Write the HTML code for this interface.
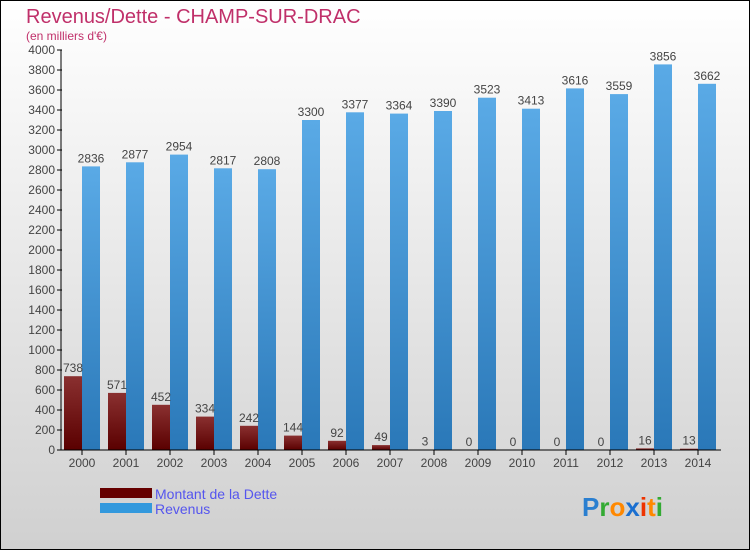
<!DOCTYPE html>
<html><head><meta charset="utf-8"><style>
body{margin:0;width:750px;height:550px;overflow:hidden;font-family:"Liberation Sans",sans-serif}
#wrap{position:absolute;left:0;top:0;width:748px;height:548px;border:1px solid #000;background:linear-gradient(#ffffff,#d0d0d0)}
</style></head><body>
<div id="wrap">
<svg id="chart" width="750" height="550" style="position:absolute;left:-1px;top:-1px">
<defs>
<linearGradient id="gd" x1="0" y1="0" x2="0" y2="1"><stop offset="0" stop-color="#8a3030"/><stop offset="1" stop-color="#5a0000"/></linearGradient>
<linearGradient id="gr" x1="0" y1="0" x2="0" y2="1"><stop offset="0" stop-color="#5aaae6"/><stop offset="1" stop-color="#2a78b8"/></linearGradient>
</defs>
<text x="26" y="23" font-size="20" fill="#c0306a">Revenus/Dette - CHAMP-SUR-DRAC</text>
<text x="26" y="40" font-size="12" fill="#c0306a">(en milliers d'€)</text>
<g id="g"></g>
<rect x="100" y="488" width="52" height="10" fill="#660000"/>
<rect x="100" y="503" width="52" height="10" fill="#3399dd"/>
<text x="155" y="499" font-size="14" fill="#5555ee">Montant de la Dette</text>
<text x="155" y="514" font-size="14" fill="#5555ee">Revenus</text>
<text x="582" y="516" font-size="26" font-weight="bold"><tspan fill="#2a7fd0">P</tspan><tspan fill="#33aa33">r</tspan><tspan fill="#ff8800">o</tspan><tspan fill="#1a6fd0">x</tspan><tspan fill="#ee3300">i</tspan><tspan fill="#ff8800">t</tspan><tspan fill="#33aa33">i</tspan></text>
</svg></div>
<script>
const years=["2000","2001","2002","2003","2004","2005","2006","2007","2008","2009","2010","2011","2012","2013","2014"];
const dette=[738,571,452,334,242,144,92,49,3,0,0,0,0,16,13];
const revenus=[2836,2877,2954,2817,2808,3300,3377,3364,3390,3523,3413,3616,3559,3856,3662];
const yTicks=[0,200,400,600,800,1000,1200,1400,1600,1800,2000,2200,2400,2600,2800,3000,3200,3400,3600,3800,4000];
const NS="http://www.w3.org/2000/svg";
const g=document.getElementById('g');
const y=v=>450-v*0.1;
const xc=i=>82+i*44;
function mk(t,a){const e=document.createElementNS(NS,t);for(const k in a)e.setAttribute(k,a[k]);g.appendChild(e);return e;}
yTicks.forEach(v=>{
 const l=mk('line',{x1:57,x2:62,y1:y(v),y2:y(v),stroke:'#000'});
 
 
 const t=mk('text',{x:55,y:y(v)+4,'font-size':12,fill:'#444','text-anchor':'end'});t.textContent=v;
 
 
});
years.forEach((yr,i)=>{
 const c=xc(i);
 const d=mk('rect',{x:c-18,y:y(dette[i]),width:18,height:dette[i]*0.1,fill:'url(#gd)'});
 
 
 const r=mk('rect',{x:c,y:y(revenus[i]),width:18,height:revenus[i]*0.1,fill:'url(#gr)'});
 
 
 const t1=mk('text',{x:c-9,y:y(dette[i])-4,'font-size':12,fill:'#444','text-anchor':'middle'});t1.textContent=dette[i];
 
 
 const t2=mk('text',{x:c+9,y:y(revenus[i])-4,'font-size':12,fill:'#444','text-anchor':'middle'});t2.textContent=revenus[i];
 
 
 const tk=mk('line',{x1:c,x2:c,y1:450,y2:455,stroke:'#000'});
 
 
 const xl=mk('text',{x:c,y:467,'font-size':12,fill:'#444','text-anchor':'middle'});xl.textContent=yr;
 
 
});
const ya=mk('line',{x1:61,x2:61,y1:50,y2:450,stroke:'#000'});


const xa=mk('line',{x1:61,x2:721,y1:450,y2:450,stroke:'#000'});


</script>
</body></html>
